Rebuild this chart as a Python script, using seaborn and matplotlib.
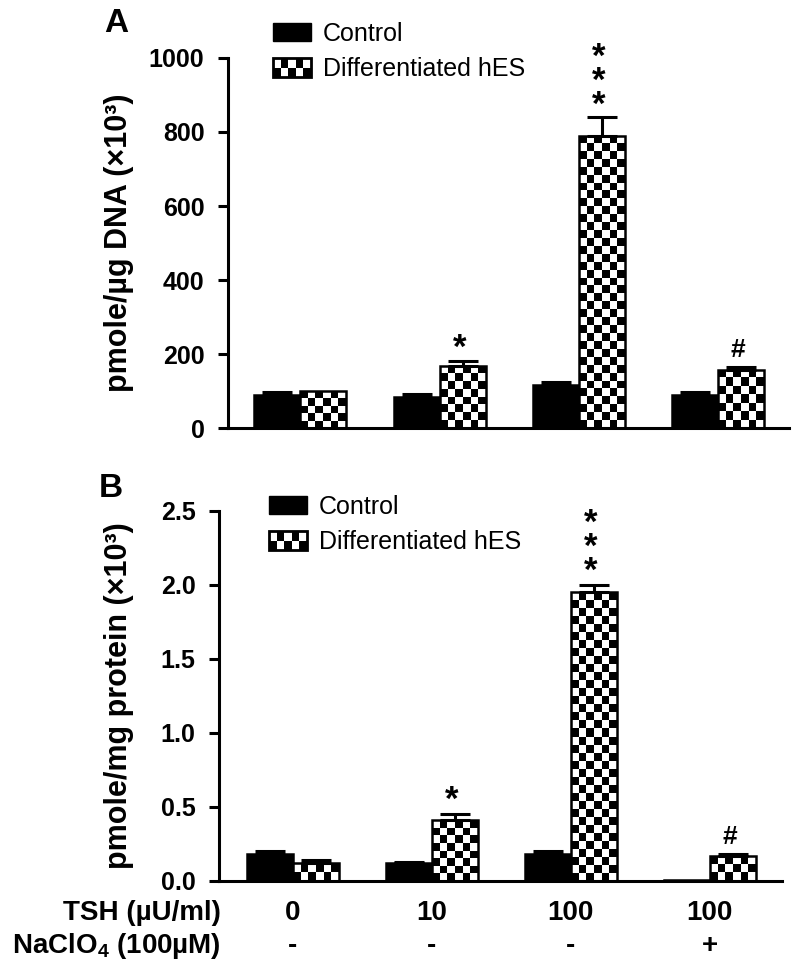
import numpy as np
import pandas as pd
import matplotlib
matplotlib.use("Agg")
import matplotlib.pyplot as plt
import seaborn as sns
from matplotlib.patches import Rectangle
from matplotlib.legend_handler import HandlerBase

# categories
conditions = ["TSH 0", "TSH 10", "TSH 100", "TSH 100 + NaClO4"]
tsh_labels = ["0", "10", "100", "100"]
naclo4_labels = ["-", "-", "-", "+"]
series = ["Control", "Differentiated hES"]

# panel A: pmole/ug DNA (x10^3)
a_control = [90, 85, 115, 90]
a_control_err = [8, 8, 8, 6]
a_hes = [100, 168, 790, 158]
a_hes_err = [0, 13, 50, 8]
a_marks = ["", "*", "*\n*\n*", "#"]

# panel B: pmole/mg protein (x10^3)
b_control = [0.18, 0.12, 0.18, 0.01]
b_control_err = [0.02, 0.01, 0.02, 0.0]
b_hes = [0.12, 0.41, 1.95, 0.17]
b_hes_err = [0.02, 0.04, 0.05, 0.015]
b_marks = ["", "*", "*\n*\n*", "#"]

sns.set_style("ticks")
plt.rcParams["font.family"] = ["Liberation Sans", "DejaVu Sans"]
plt.rcParams["mathtext.fontset"] = "custom"
plt.rcParams["mathtext.bf"] = "Liberation Sans:bold"
plt.rcParams["mathtext.rm"] = "Liberation Sans:bold"
plt.rcParams["mathtext.default"] = "bf"
for key in ["text.color", "axes.labelcolor", "xtick.color", "ytick.color", "axes.edgecolor"]:
    plt.rcParams[key] = "black"


class CheckerHandler(HandlerBase):
    # little checkerboard box for the legend
    def create_artists(self, legend, orig_handle, xdescent, ydescent,
                       width, height, fontsize, trans):
        nx, ny = 5, 2
        w, h = width / nx, height / ny
        arts = []
        for i in range(nx):
            for j in range(ny):
                c = "black" if (i + j) % 2 == 0 else "white"
                arts.append(Rectangle((-xdescent + i * w, -ydescent + j * h), w, h,
                                      facecolor=c, edgecolor="none", transform=trans))
        arts.append(Rectangle((-xdescent, -ydescent), width, height, facecolor="none",
                              edgecolor="black", linewidth=2, transform=trans))
        return arts


def add_checker(ax, bar, cell_px=8):
    x0, y0 = bar.get_x(), bar.get_y()
    x1, y1 = x0 + bar.get_width(), y0 + bar.get_height()
    (px0, py0), (px1, py1) = ax.transData.transform([(x0, y0), (x1, y1)])
    ncol = max(1, int(round(abs(px1 - px0) / cell_px)))
    nrow = max(1, int(round(abs(py1 - py0) / cell_px)))
    board = np.indices((nrow, ncol)).sum(axis=0) % 2
    im = ax.imshow(board, cmap="gray", vmin=0, vmax=1, extent=(x0, x1, y0, y1),
                   origin="lower", aspect="auto", interpolation="nearest", zorder=2)
    im.set_clip_path(bar)


def draw_panel(fig, ax, control, control_err, hes, hes_err, marks, ylim, yticks,
               ylabel, xlim, label_x, legend_xy, star_base):
    df = pd.DataFrame({
        "condition": conditions * 2,
        "group": [series[0]] * 4 + [series[1]] * 4,
        "value": control + hes,
    })
    sns.barplot(data=df, x="condition", y="value", hue="group", hue_order=series,
                order=conditions, palette=["black", "white"], saturation=1,
                width=0.66, errorbar=None, edgecolor="black", linewidth=1.8,
                legend=False, ax=ax)
    ax.set_xlim(*xlim)
    ax.set_ylim(*ylim)

    for bar in ax.containers[1]:
        bar.set_facecolor("none")
        bar.set_zorder(3)
        add_checker(ax, bar)

    for cont, errs in zip(ax.containers, [control_err, hes_err]):
        for bar, e in zip(cont, errs):
            if e <= 0:
                continue
            cx = bar.get_x() + bar.get_width() / 2
            ax.errorbar(cx, bar.get_height(), yerr=[[0], [e]], fmt="none",
                        ecolor="black", elinewidth=2.2, capsize=11, capthick=2.2,
                        zorder=4)

    # significance marks above the hES bars
    for bar, e, m in zip(ax.containers[1], hes_err, marks):
        if not m:
            continue
        cx = bar.get_x() + bar.get_width() / 2
        top = bar.get_height() + e
        if m == "#":
            ax.annotate(m, xy=(cx, top), xytext=(-2, 7), textcoords="offset points",
                        ha="center", va="baseline", fontsize=19, fontweight="bold")
        else:
            ax.annotate(m, xy=(cx, top), xytext=(-2, star_base),
                        textcoords="offset points", ha="center", va="baseline",
                        fontsize=25, fontweight="bold", linespacing=0.645)

    ax.set_yticks(yticks)
    ax.tick_params(axis="y", length=7, width=2.2, labelsize=18, pad=10)
    for t in ax.get_yticklabels():
        t.set_fontweight("bold")
    ax.set_xticks(range(4))
    ax.set_xticklabels([])
    ax.tick_params(axis="x", length=0)
    ax.set_xlabel("")
    ax.set_ylabel(ylabel, fontsize=22, fontweight="bold")
    ax.yaxis.set_label_coords(label_x, 0.5)
    sns.despine(ax=ax)
    for s in ["left", "bottom"]:
        ax.spines[s].set_linewidth(2.2)

    handles = [Rectangle((0, 0), 1, 1, facecolor="black", edgecolor="black"),
               Rectangle((0, 0), 1, 1, facecolor="white", edgecolor="black")]
    ax.legend(handles, series, handler_map={handles[1]: CheckerHandler()},
              loc="upper left", bbox_to_anchor=legend_xy, bbox_transform=fig.transFigure,
              frameon=False, handlelength=1.5, handleheight=0.75,
              handletextpad=0.5, labelspacing=0.45, borderpad=0, borderaxespad=0,
              prop={"size": 18, "weight": "normal"})


fig = plt.figure(figsize=(7.92, 9.76), dpi=100)
axA = fig.add_axes([228 / 792, 1 - 428 / 976, 561 / 792, 370 / 976])
axB = fig.add_axes([219 / 792, 1 - 881 / 976, 563 / 792, 370 / 976])

draw_panel(fig, axA, a_control, a_control_err, a_hes, a_hes_err, a_marks,
           (0, 1000), [0, 200, 400, 600, 800, 1000], "pmole/µg DNA (×10³)",
           (-0.52, 3.51), -0.168, (273 / 792, 1 - 22 / 976), 2)
draw_panel(fig, axB, b_control, b_control_err, b_hes, b_hes_err, b_marks,
           (0, 2.5), [0.0, 0.5, 1.0, 1.5, 2.0, 2.5], "pmole/mg protein (×10³)",
           (-0.53, 3.52), -0.151, (269 / 792, 1 - 495 / 976), 3)

# treatment rows under panel B
for i, (t, n) in enumerate(zip(tsh_labels, naclo4_labels)):
    axB.annotate(t, xy=(i, 0), xycoords=("data", "axes fraction"), xytext=(0, -23),
                 textcoords="offset points", ha="center", va="center",
                 fontsize=20, fontweight="bold")
    axB.annotate(n, xy=(i, 0), xycoords=("data", "axes fraction"), xytext=(0, -47),
                 textcoords="offset points", ha="center", va="center",
                 fontsize=20, fontweight="bold")
axB.annotate("TSH (µU/ml)", xy=(0, 0), xycoords="axes fraction", xytext=(1, -23),
             textcoords="offset points", ha="right", va="center",
             fontsize=20, fontweight="bold")
axB.annotate("NaClO$_4$ (100µM)", xy=(0, 0), xycoords="axes fraction", xytext=(1, -47),
             textcoords="offset points", ha="right", va="center",
             fontsize=20, fontweight="bold")

fig.text(104 / 792, 1 - 32 / 976, "A", fontsize=24, fontweight="bold", va="baseline")
fig.text(99 / 792, 1 - 497 / 976, "B", fontsize=24, fontweight="bold", va="baseline")

fig.savefig("out.png", dpi=100)
